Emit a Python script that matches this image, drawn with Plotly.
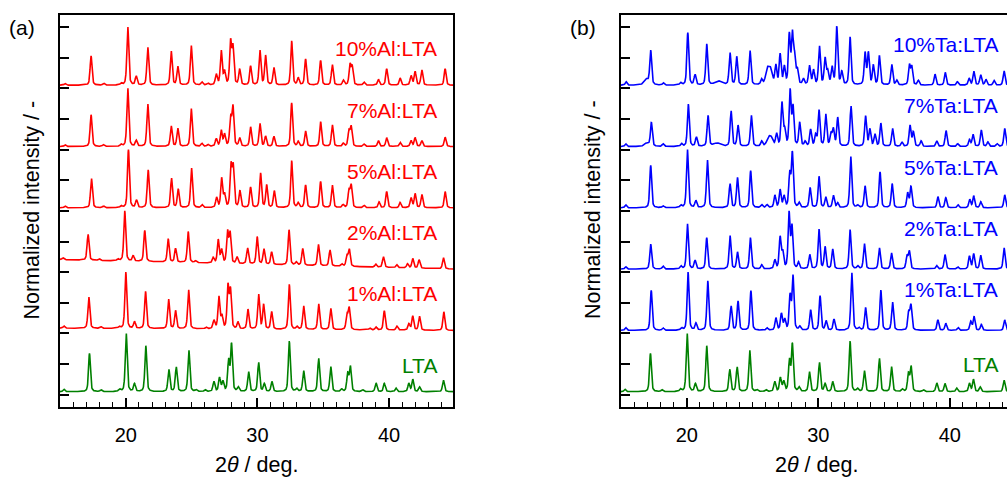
import numpy as np
import plotly.graph_objects as go

# ---------------- data: peak lists ----------------
# each entry: (2theta position, height in % of the pattern span[, FWHM])
LTA = [(15.3,4),(17.24,65),(18.12,3),(19.52,4),(20.03,100),(20.66,13),(21.52,78),(23.27,38),
       (23.83,42),(24.79,71),(25.35,3),(26.03,3),(26.69,17),(27.12,23),(27.37,17),(27.81,52),
       (28.03,80),(28.55,7),(29.33,34),(30.09,50),(30.52,13),(31.10,17),(32.42,86),(32.98,5),
       (33.51,36),(34.65,57),(35.57,43),(36.4,4),(36.86,30),(37.06,42),(38.0,3),(39.01,15),
       (39.64,14),(40.53,6),(41.5,14),(41.8,21),(42.31,8),(44.13,20)]

AL10 = [(15.39,3),(17.36,50),(18.33,3),(19.65,3),(20.15,100),(20.79,15),(21.67,65),(23.45,58),
        (23.95,32),(24.97,68),(25.78,5),(26.24,3),(26.87,18),(27.25,58),(27.5,22),(27.96,72),
        (28.14,62),(28.65,26),(29.48,32),(30.19,59),(30.62,50),(31.25,30),(32.6,75),(33.1,12),
        (33.66,44),(34.8,42),(35.69,35),(36.53,8),(37.03,34),(37.2,30),(38.1,5),(39.19,10),
        (39.82,28),(40.84,12),(41.67,16),(41.98,23),(42.49,26),(44.26,28)]

AL7 = [(15.39,3),(17.36,54),(18.3,3),(19.65,3),(20.15,100),(20.79,10),(21.67,73),(23.45,35),
       (23.95,31),(24.97,65),(25.78,5),(26.24,3),(26.87,13),(27.25,27),(27.5,20),(27.96,48),
       (28.14,66),(28.65,14),(29.48,33),(30.19,39),(30.62,17),(31.25,17),(32.6,74),(33.1,8),
       (33.66,26),(34.8,42),(35.69,37),(36.53,5),(36.95,25),(37.12,33),(38.1,4),(39.19,10),
       (39.82,15),(40.84,7),(41.67,10),(41.98,15),(42.49,10),(44.26,16)]

AL5 = [(15.39,3),(17.39,51),(18.3,3),(19.65,3),(20.2,100),(20.81,13),(21.7,65),(23.47,51),
       (23.98,32),(24.99,69),(25.8,5),(26.9,17),(27.28,50),(27.5,22),(27.99,70),(28.16,68),
       (28.67,28),(29.48,35),(30.24,59),(30.7,39),(31.28,29),(32.6,81),(33.1,8),(33.66,39),
       (34.8,45),(35.69,39),(36.5,5),(36.95,28),(37.12,38),(38.1,4),(39.24,10),(39.82,28),
       (40.84,9),(41.67,17),(41.98,24),(42.49,23),(44.26,28)]

AL2 = [(15.23,3),(17.13,44),(17.97,3),(19.4,3),(19.92,84),(20.56,9),(21.44,52),(23.22,39),
       (23.78,23),(24.74,52),(25.3,3),(26.64,9),(27.02,39),(27.28,22),(27.73,52),(27.92,50),
       (28.45,11),(29.25,27),(29.98,46),(30.49,26),(31.08,21),(32.4,59),(32.95,5),(33.44,28),
       (34.63,36),(35.51,27),(36.4,4),(36.8,18),(36.98,28),(38.99,5),(39.57,18),(40.58,5),
       (41.4,7),(41.8,16),(42.28,14),(44.13,19)]

AL1 = [(15.3,4),(17.19,56),(18.12,3),(19.5,3),(20.0,100),(20.66,12),(21.5,66),(23.25,53),
       (23.78,32),(24.77,70),(26.1,3),(26.69,15),(27.07,57),(27.3,22),(27.76,75),(27.95,68),
       (28.52,12),(29.28,35),(30.09,62),(30.47,43),(31.08,31),(32.42,80),(33.0,5),(33.51,42),
       (34.65,46),(35.57,38),(36.8,25),(36.97,38),(38.55,3),(39.01,5),(39.64,34),(40.6,7),
       (41.5,11),(41.8,25),(42.31,25),(44.16,33)]

TA10 = [(15.39,6),(16.92,10,0.4),(17.26,59),(18.22,4),(19.54,4),(20.08,91),(20.63,18),(21.52,71),
        (22.4,7,0.6),(23.29,56),(23.8,49),(24.81,60),(25.69,9),(26.12,25,0.3),(26.36,25,0.3),
        (26.77,33),(27.1,52),(27.42,30),(27.8,85),(28.03,85),(28.2,45),(28.41,25),(28.87,10),
        (29.33,33),(29.64,25),(30.09,67),(30.52,45),(30.72,22),(31.05,30),(31.41,100),(31.79,22),
        (32.42,83),(33.56,55),(33.81,55),(34.19,33),(34.65,50),(35.59,36),(35.97,8),(36.93,34),
        (37.11,31),(37.61,8),(38.88,19),(39.66,22),(40.58,6),(41.47,12),(41.83,24),(42.35,18),
        (42.75,10),(43.37,8),(44.13,25)]

TA7 = [(15.36,5),(16.95,6,0.4),(17.31,43),(18.2,5),(19.6,5),(20.12,77),(20.73,17),(21.62,56),
       (22.3,6,0.6),(23.37,65),(23.9,38),(24.91,57),(25.7,9),(26.2,14,0.3),(26.42,14,0.3),
       (26.83,22),(27.24,78),(27.45,28),(27.86,100),(28.08,70),(28.59,42),(29.0,8),(29.42,30),
       (29.8,20),(30.06,65),(30.57,58),(30.97,22),(31.15,30),(31.48,52),(32.49,74),(33.6,55),
       (33.93,30),(34.31,22),(34.76,42),(35.65,33),(36.36,8),(36.98,38),(37.23,26),(37.82,10),
       (39.01,10),(39.72,29),(40.6,5),(41.5,12),(41.77,22),(42.4,30),(42.9,8),(43.6,5),(44.18,33)]

TA5 = [(15.36,5),(17.26,72),(18.2,3),(19.55,4),(20.05,100),(20.69,12),(21.57,82),(23.29,41),
       (23.86,51),(24.86,63),(25.7,5),(26.1,5),(26.7,21),(27.1,30),(27.4,19),(27.83,56),
       (28.03,92),(28.55,8),(29.38,34),(30.06,53),(30.57,18),(31.15,21),(31.48,8),(32.47,88),
       (33.0,4),(33.56,37),(34.7,61),(35.62,41),(36.8,25),(37.05,36),(39.1,19),(39.7,17),
       (40.63,5),(41.52,14),(41.82,20),(42.36,10),(44.18,22)]

TA2 = [(15.36,4),(17.26,43),(18.2,5),(19.55,5),(20.05,79),(20.63,15),(21.52,54),(23.29,58),
       (23.86,29),(24.84,54),(25.7,7),(26.7,15),(27.1,54),(27.3,28),(27.78,95),(28.0,72),
       (28.5,11),(29.35,25),(30.06,68),(30.52,38),(31.1,34),(32.42,68),(33.0,5),(33.51,44),
       (34.65,37),(35.57,28),(36.75,22),(36.93,30),(39.0,6),(39.64,25),(40.6,4),(41.5,22),
       (41.82,26),(42.35,24),(44.13,37)]

TA1 = [(15.36,5),(17.3,69),(18.2,4),(19.6,4),(20.1,100),(20.7,12),(21.6,85),(23.37,42),
       (23.9,50),(24.88,68),(26.1,4),(26.78,21),(27.2,28),(27.45,18),(27.86,58),(28.08,92),
       (28.6,6),(29.42,35),(30.14,59),(30.6,16),(31.2,19),(32.55,100),(33.1,4),(33.6,39),
       (34.76,69),(35.65,49),(36.88,30),(37.05,42),(39.1,18),(39.7,12),(40.63,5),(41.6,15),
       (41.85,23),(42.4,10),(44.18,18)]

# sloping backgrounds (% of span at 15 deg and 45 deg)
BG = {"2%Al:LTA": (18, 2), "1%Al:LTA": (5, 1)}

# stacking order (bottom -> top) and label heights (axis units)
left_names = ["LTA", "1%Al:LTA", "2%Al:LTA", "5%Al:LTA", "7%Al:LTA", "10%Al:LTA"]
left_peaks = [LTA, AL1, AL2, AL5, AL7, AL10]
left_label_y = [0.95, 3.29, 5.28, 7.28, 9.28, 11.31]
right_names = ["LTA", "1%Ta:LTA", "2%Ta:LTA", "5%Ta:LTA", "7%Ta:LTA", "10%Ta:LTA"]
right_peaks = [LTA, TA1, TA2, TA5, TA7, TA10]
right_label_y = [0.98, 3.45, 5.41, 7.42, 9.45, 11.42]

RED, BLUE, GREEN = "#ff0000", "#0000ff", "#008000"
FONT = "Liberation Sans, Arial, sans-serif"
W = 1007
FWHM = 0.17
ETA = 0.45

tt = np.arange(15.0, 45.001, 0.02)


def pattern(peaks, bg=(0, 0)):
    inten = bg[0] + (bg[1] - bg[0]) * (tt - 15.0) / 30.0
    for p in peaks:
        pos, h = p[0], p[1]
        w = p[2] if len(p) > 2 else FWHM
        d = (tt - pos) / w
        lor = 1.0 / (1.0 + 4.0 * d * d)
        gau = np.exp(-4.0 * np.log(2.0) * d * d)
        inten = inten + h * (ETA * lor + (1 - ETA) * gau)
    return inten


def stacked(peaks, idx, name):
    inten = pattern(peaks, BG.get(name, (0, 0)))
    norm = (inten - inten.min()) / (inten.max() - inten.min())
    return 2 * idx + 0.1 + 1.9 * norm


fig = go.Figure()
for names, peaks, xa, ya, col in [
        (left_names, left_peaks, "x", "y", RED),
        (right_names, right_peaks, "x2", "y2", BLUE)]:
    for i, (nm, pk) in enumerate(zip(names, peaks)):
        c = GREEN if nm == "LTA" else col
        fig.add_trace(go.Scatter(x=tt, y=stacked(pk, i, nm), mode="lines",
                                 line=dict(color=c, width=1.6), xaxis=xa, yaxis=ya,
                                 showlegend=False, hoverinfo="skip"))

annots = []
for names, ly, xr, yr, col in [(left_names, left_label_y, "x", "y", RED),
                               (right_names, right_label_y, "x2", "y2", BLUE)]:
    for nm, y in zip(names, ly):
        annots.append(dict(x=43.82, y=y, xref=xr, yref=yr, text=nm, showarrow=False,
                           xanchor="right", yanchor="middle",
                           font=dict(family=FONT, size=21, color=GREEN if nm == "LTA" else col)))

PT, PB = 14.5, 407.3
def py(p):
    return (PB - p) / (PB - PT)

for xc, txt in [(32.5, "Normalized intensity / -"), (593.0, "Normalized intensity / -")]:
    annots.append(dict(x=xc / W, y=py(210), xref="paper", yref="paper", text=txt,
                       textangle=-90, showarrow=False, xanchor="center", yanchor="middle",
                       font=dict(family=FONT, size=21.5, color="black")))
for xc in [256.5, 816.5]:
    annots.append(dict(x=xc / W, y=py(465), xref="paper", yref="paper",
                       text="2<i>θ</i> / deg.", showarrow=False, xanchor="center",
                       yanchor="middle", font=dict(family=FONT, size=21.5, color="black")))
for xc, txt in [(22, "(a)"), (582.5, "(b)")]:
    annots.append(dict(x=xc / W, y=py(27), xref="paper", yref="paper", text=txt,
                       showarrow=False, xanchor="center", yanchor="middle",
                       font=dict(family=FONT, size=21, color="black")))

xcommon = dict(showline=True, linecolor="black", linewidth=1.5, mirror=True,
               ticks="inside", ticklen=9, tickwidth=1.5, tickcolor="black",
               tick0=0, dtick=10, showgrid=False, zeroline=False, ticklabelstandoff=9,
               minor=dict(dtick=1, ticks="inside", ticklen=5, tickwidth=1.2,
                          tickcolor="black", showgrid=False),
               tickfont=dict(family=FONT, size=20, color="black"))
ycommon = dict(showline=True, linecolor="black", linewidth=1.5, range=[-0.4, 12.39],
               ticks="inside", ticklen=9, tickwidth=1.5, tickcolor="black",
               tick0=0, dtick=1, showticklabels=False, showgrid=False, zeroline=False,
               domain=[0, 1])

fig.update_layout(
    width=W, height=478,
    margin=dict(l=0, r=0, t=PT, b=478 - PB, pad=0),
    paper_bgcolor="white", plot_bgcolor="white",
    xaxis=dict(domain=[60 / W, 453.3 / W], range=[15, 44.88], anchor="y", **xcommon),
    xaxis2=dict(domain=[621 / W, 1.0], range=[15, 15 + 386 / 13.15], anchor="y2", **xcommon),
    yaxis=dict(anchor="x", mirror=True, **ycommon),
    yaxis2=dict(anchor="x2", mirror=False, **ycommon),
    annotations=annots,
    showlegend=False,
)

fig.write_html("out.html")
